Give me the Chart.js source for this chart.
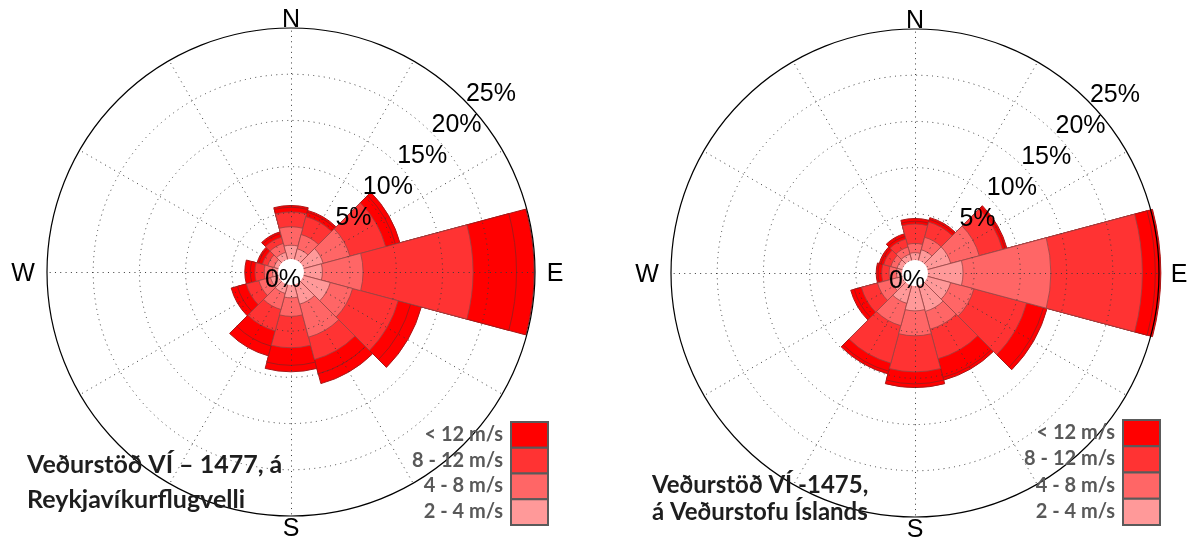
<!DOCTYPE html>
<html lang="is">
<head>
<meta charset="utf-8">
<title>Vindrósir</title>
<script src="https://cdn.jsdelivr.net/npm/chart.js@4.4.1/dist/chart.umd.min.js"></script>
<style>
  html, body { margin: 0; padding: 0; background: #fff; }
  body { width: 1190px; height: 539px; position: relative; overflow: hidden; }
  canvas { position: absolute; top: 0; }
  #roseRvk { left: 0; }
  #roseVi { left: 595px; }
</style>
</head>
<body>
<canvas id="roseRvk" width="595" height="539"></canvas>
<canvas id="roseVi" width="595" height="539"></canvas>
<script>
// 30° direction sectors, clockwise from north
const sectors = ['0°', '30°', '60°', '90°', '120°', '150°', '180°', '210°', '240°', '270°', '300°', '330°'];
const compassLabels = ['N', 'E', 'S', 'W'];
const ringTicks = [5, 10, 15, 20, 25];
// legend entries, top to bottom
const speedLabels = ['< 12 m/s', '8 - 12 m/s', '4 - 8 m/s', '2 - 4 m/s'];

// Reykjavíkurflugvöllur (1477): frequency (%) per speed band and sector
const rvk2to4   = [1.5, 1.2, 2.2, 2.0, 3.0, 2.2, 1.4, 1.0, 0.9, 0.6, 0.5, 0.8];
const rvk4to8   = [2.0, 1.6, 3.0, 4.4, 2.5, 3.7, 2.0, 1.8, 1.3, 0.9, 0.7, 1.0];
const rvk8to12  = [1.6, 2.0, 4.0, 11.9, 5.1, 2.5, 3.4, 2.4, 1.4, 1.0, 0.6, 0.7];
const rvk12     = [0.5, 0.5, 1.1, 4.7, 1.4, 1.6, 1.9, 1.7, 1.0, 0.5, 0.4, 0.4];
const rvkTop    = [0.2, 0.2, 0.5, 1.9, 1.2, 1.1, 0.7, 1.1, 0.7, 0.6, 0.2, 0.2];

// Veðurstofa Íslands (1475): frequency (%) per speed band and sector
const vi2to4    = [0.8, 1.2, 2.6, 3.8, 2.6, 2.9, 2.7, 2.0, 1.3, 0.6, 0.6, 0.7];
const vi4to8    = [1.0, 1.4, 3.2, 9.5, 2.6, 2.0, 2.7, 2.5, 1.5, 0.8, 0.7, 0.8];
const vi8to12   = [2.1, 1.7, 2.6, 9.9, 5.9, 3.3, 3.9, 4.2, 1.8, 0.8, 0.8, 0.9];
const vi12      = [0.3, 0.3, 0.3, 1.4, 1.9, 2.1, 1.3, 0.9, 0.8, 0.4, 0.3, 0.3];
const viTop     = [0.3, 0.2, 0.2, 0.6, 0.4, 0.3, 0.4, 0.3, 0.4, 0.2, 0.2, 0.3];

const bandColors = ['#FF9999', '#FF6666', '#FF3333', '#FF0000', '#FF0000'];
const spokeAngles = [0, 30, 60, 90, 120, 150, 180, 210, 240, 270, 300, 330];
const DOTS = [1, 4.3];

// running totals so every band is drawn out from the centre, inner bands on top
function stack(bands) {
  let run = sectors.map(() => 0);
  return bands.map(b => (run = run.map((s, i) => +(s + b[i]).toFixed(2))));
}

const roseDecor = {
  id: 'roseDecor',
  afterDatasetsDraw(chart) {
    const s = chart.scales.r, ctx = chart.ctx;
    const cx = s.xCenter + 0.5, cy = s.yCenter + 0.5;
    const r0 = s.getDistanceFromCenterForValue(0), r1 = s.drawingArea;
    ctx.save();
    ctx.strokeStyle = '#3a3a3a';
    ctx.lineWidth = 1;
    ctx.setLineDash(DOTS);
    spokeAngles.forEach(deg => {
      const a = deg * Math.PI / 180;
      ctx.beginPath();
      ctx.moveTo(cx + r0 * Math.sin(a), cy - r0 * Math.cos(a));
      ctx.lineTo(cx + r1 * Math.sin(a), cy - r1 * Math.cos(a));
      ctx.stroke();
    });
    ctx.restore();
  },
  afterDraw(chart, args, o) {
    const s = chart.scales.r, ctx = chart.ctx;
    const cx = s.xCenter, cy = s.yCenter, R = s.drawingArea;
    const r0 = s.getDistanceFromCenterForValue(0);
    ctx.save();
    // hollow centre
    ctx.fillStyle = '#fff';
    ctx.beginPath();
    ctx.arc(cx, cy, r0, 0, Math.PI * 2);
    ctx.fill();

    // ring values along a diagonal
    ctx.fillStyle = '#000';
    ctx.font = '25px "Liberation Sans", Arial, sans-serif';
    ctx.textAlign = 'center';
    ctx.textBaseline = 'alphabetic';
    const a = o.labelAngle * Math.PI / 180;
    ringTicks.forEach(v => {
      const d = s.getDistanceFromCenterForValue(v) + o.labelGap;
      ctx.fillText(v + '%', cx + d * Math.cos(a), cy - d * Math.sin(a) + 9);
    });
    ctx.fillText('0%', cx - 8, cy + 15);

    // compass points
    ctx.textBaseline = 'middle';
    compassLabels.forEach((t, i) => {
      const d = R + o.compassGap[i];
      const ang = i * Math.PI / 2;
      ctx.fillText(t, cx + d * Math.sin(ang), cy - d * Math.cos(ang) + (i === 1 || i === 3 ? 2 : 0));
    });

    // speed legend
    const L = o.legend;
    ctx.textBaseline = 'alphabetic';
    ctx.textAlign = 'right';
    ctx.font = 'bold 20px Lato, "Open Sans", sans-serif';
    speedLabels.forEach((t, i) => {
      const ds = chart.data.datasets[speedLabels.length - 1 - i];
      const y = L.y + i * L.h;
      ctx.fillStyle = ds.backgroundColor;
      ctx.fillRect(L.x, y, L.w, L.h);
      ctx.strokeStyle = '#5a5a5a';
      ctx.lineWidth = 2;
      ctx.strokeRect(L.x, y, L.w, L.h);
      ctx.fillStyle = '#595959';
      ctx.fillText(t, L.textRight, y + L.h / 2 + 6);
    });

    // station name
    ctx.textAlign = 'left';
    ctx.fillStyle = '#1e1e1e';
    ctx.font = 'bold ' + o.title.size + 'px Lato, "Open Sans", sans-serif';
    o.title.lines.forEach((t, i) => ctx.fillText(t, o.title.x, o.title.baselines[i]));
    ctx.restore();
  }
};

function makeRose(id, bands, look) {
  const cum = stack(bands);
  const datasets = cum.map((vals, k) => ({
    label: k < speedLabels.length ? speedLabels[speedLabels.length - 1 - k] : '',
    data: vals,
    backgroundColor: bandColors[k],
    borderColor: k >= 3 ? '#a81818' : 'rgba(150,70,70,0.8)',
    borderWidth: 1
  }));
  const R = look.radius;
  return new Chart(document.getElementById(id), {
    type: 'polarArea',
    data: { labels: sectors, datasets },
    options: {
      responsive: false,
      animation: false,
      events: [],
      layout: {
        padding: { left: look.cx - R, right: 595 - look.cx - R, top: look.cy - R, bottom: 539 - look.cy - R }
      },
      scales: {
        r: {
          min: -1.4,
          max: 25,
          startAngle: -15,
          ticks: { display: false, stepSize: 5 },
          pointLabels: { display: false },
          angleLines: { display: false },
          grid: {
            circular: true,
            z: 1,
            color: c => c.tick.value <= 0 ? 'rgba(0,0,0,0)' : (c.tick.value >= 25 ? '#000' : '#3a3a3a'),
            lineWidth: c => c.tick.value >= 25 ? 1.2 : 1
          },
          border: { dash: c => (c.tick && c.tick.value >= 25) ? [] : DOTS }
        }
      },
      plugins: {
        legend: { display: false },
        tooltip: { enabled: false },
        roseDecor: look
      }
    },
    plugins: [roseDecor]
  });
}

makeRose('roseRvk', [rvk2to4, rvk4to8, rvk8to12, rvk12, rvkTop], {
  cx: 291, cy: 272, radius: 244,
  labelAngle: 42, labelGap: 25,
  compassGap: [8, 20, 13, 24],
  legend: { x: 511, y: 422, w: 37, h: 25.75, textRight: 503 },
  title: { x: 27, size: 25, lines: ['Veðurstöð VÍ – 1477, á', 'Reykjavíkurflugvelli'], baselines: [473, 508] }
});

makeRose('roseVi', [vi2to4, vi4to8, vi8to12, vi12, viTop], {
  cx: 320, cy: 273, radius: 244,
  labelAngle: 42, labelGap: 25,
  compassGap: [8, 20, 13, 24],
  legend: { x: 528, y: 420, w: 37, h: 26.25, textRight: 520 },
  title: { x: 57, size: 24, lines: ['Veðurstöð VÍ -1475,', 'á Veðurstofu Íslands'], baselines: [493, 520] }
});
</script>
</body>
</html>
